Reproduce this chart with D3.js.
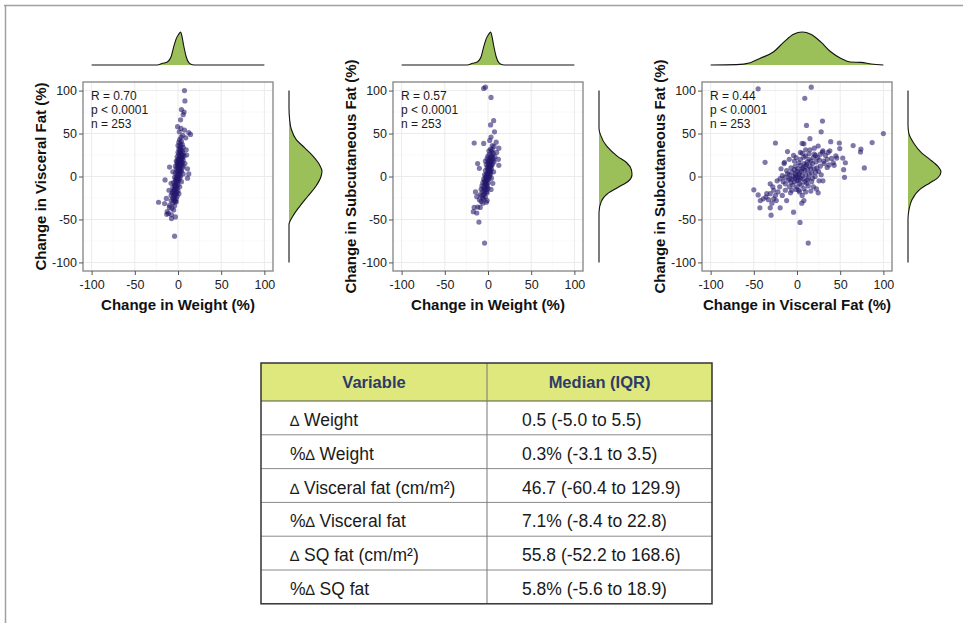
<!DOCTYPE html>
<html>
<head>
<meta charset="utf-8">
<script src="https://cdn.jsdelivr.net/npm/d3@7"></script>
<style>
body { margin: 0; background: #fff; }
svg { font-family: "Liberation Sans", Arial, Helvetica, sans-serif; }
.grid-major { stroke: #ebebeb; stroke-width: 1; }
.grid-minor { stroke: #f5f5f5; stroke-width: 0.6; }
.box { fill: none; stroke: #8c8c8c; stroke-width: 1.4; }
.dens-area { fill: #9bbf59; }
.dens-line { fill: none; stroke: #111; stroke-width: 1.1; }
.title { font-weight: bold; font-size: 15px; fill: #111; }
.note { font-size: 12px; fill: #1a1a1a; }
</style>
</head>
<body>
<svg id="chart" width="963" height="623"></svg>
<script>

/// Panel 1: change in weight (%) vs change in visceral fat (%)
var weightVsVisceral = [
  [7.5,100],[8,88],[4,78],[7,75],[6,72],[3,66],[-0.5,58],[3.5,56],[7.5,54],[12.5,51],[14.5,49],[5.5,48],[3.5,46],[1.5,52],[9,45],
  [2,43],[4,41],[1,40],[3,38],[5,37],[0,36],[2,35],[6,34],[3,33],[1,32],[4,31],[9.5,31],[2,30],[5,29],[0,28],[3,27],[6,27],[1,26],[4,25],[10,25],[2,24],[7,24],[-1,23],
  [3,22],[5,21],[0,20],[2,20],[4,19],[6,19],[1,18],[-2,18],[3,17],[5,16],[0,16],[2,15],[8,15],[-1,14],[4,14],[1,13],[3,12],[-3,12],[6,12],[0,11],[2,10],[-9.8,11],[5,10],[-2,9],[11,9],[1,8],[3,7],[-1,6],[-6,5.5],[4,6],[0,5],[2,4],[-3,4],[6,3],[12.5,3],[-1,2],[1,1],[3,0.5],[-2,0],[0,-1],[-4,-1],[2,-2],[11,-2],[-1,-3],[-3,-4],[-15,-4],[1,-5],[-2,-6],[4,-6],
  [-5,-7],[-1,-8],[-8,-8],[-3,-9],[0,-10],[-4,-11],[-2,-12],[2,-12],[-6,-13],[-1,-14],[-3,-15],[-10.5,-16],[-5,-16],[0,-17],[-2,-18],[-4,-19],[-7,-19],[1,-20],[-3,-21],[-5,-22],[-8,-22],[-1,-23],[-4,-24],[-6,-25],[-13.5,-25.5],[-2,-26],[-5,-27],[-8,-28],[-3,-29],[-2,-29.5],[-22.5,-30],
  [-6,-31],[-15.5,-31.5],[-9.8,-33.5],[-4,-34],[-10,-36],[-7,-37],[-5,-39],[-12.5,-41],[-11,-43],[-13,-44],[-7.5,-44.5],[-3,-47],[-7.5,-49],[-4,-69.5],
  [1,3],[2,7],[0,13],[3,15],[1,21],[4,23],[-1,-2],[-2,-4],[-3,-11],[-4,-15],[-2,-20],[0,-4],[2,18],[3,28],[0,9],[-1,17],[5,24],[-6,-18],[-4,-28]
];

/// Panel 2: change in weight (%) vs change in subcutaneous fat (%)
var weightVsSq = [
  [-5,102.5],[-3,104],[3.5,92],[6.5,65],[3,60],[7.5,52],[3.5,46],[2,42],[9.5,40],[-16,39],[-5,38.5],[12.5,33],[5,36],[7,35],[3,32],[10,28],[1,30],[4,29],[6,27],[12,20],
  [2,26],[5,25],[0,24],[8,23],[3,22],[-1,21],[6,21],[2,20],[4,18],[-3,18],[0,17],[7,17],[-12,15],[2,15],[5,14],[-2,14],[12.5,13],[1,12],[3,11],[-1,10],[-10,9.5],[4,9],[0,8],[2,7],[-3,7],[6.5,5.5],[1,5],[-1,4],[3,3],[-4,2],[0,1],[2,0],
  [-2,-1],[4,-2],[-5,-3],[1,-3],[-1,-5],[-3,-6],[-6,-7],[0,-7],[5.5,-8],[-2,-9],[-4,-10],[-7,-11],[-1,-12],[-5,-13],[-3,-14],[3.5,-15],[-8,-15],[-6,-17],[-14.5,-18],[-2,-18],[-4,-20],[-9,-21],[-7,-22],[-13,-23.5],[-3,-24],[-5,-26],[-10,-27],[-1,-28],[-8,-29],[-6,-31],
  [-12,-35.5],[-16,-36],[-9,-36],[-17,-41],[-13,-42.5],[-10.5,-53],[-4,-77.5],
  [1,6],[2,10],[-1,0],[0,3],[3,14],[1,19],[4,23],[-2,-4],[-3,-8],[-4,-16],[-2,2],[3,6],[0,-14],[-5,-21],[1,9],[2,13],[-1,-19],[5,31],[6,19],[-6,-25],[-2,-30],
  [0,12],[1,16],[-1,-10],[-2,-15],[2,4],[3,18],[0,-2],[-3,-1],[4,13],[-4,-5]
];

/// Panel 3: change in visceral fat (%) vs change in subcutaneous fat (%)
var visceralVsSq = [
  [-45,102],[16.5,104],[9,91],[11,59.5],[29.5,64.5],[28,52],[100,50],[87,39.5],[74,32],[73.5,28.5],[65,36],[49,39],[49.5,32.5],[39,40.5],[15,44],[24.5,35.5],[8,38],[6,38.5],[-25,39],[-11,29],[-37,16.5],[-14.5,16.5],
  [78,10],[55,-1],[54,8],[56,16],[53,21.5],[46,21.5],[37,13.5],[43,13],[-50,-15.5],[-45,-21.5],[-42.5,-28],[-43,-36.5],[-31,-36.5],[-19.5,-36.5],[-30,-45],[-4,-41.5],[3.5,-53.5],[13,-77.5],[8,-28],[5.5,-31],[22.5,-14.5],[24.5,-19],[-7.5,-19],[2,-16],[-13.5,-16],
  [-31,-8.5],[-27,-16],[-31,-20],[-35,-20],[-39,-26],[-33,-27],[-27,-26],[-25,-22],[-22,-18],[-20,-12],[-19.5,-2.5],[-18.5,9],[-16,-6],[-23,-5],[-28,-12],[-36,-24],[-24,-28],[-17,-22],[-12,-28],[-29,-31],
  [-13.5,-8.5],[-8.5,-2.5],[-2,3],[4,13],[-4,24.5],[0,-5],[2,2],[5,6],[-6,5],[-10,-4],[-5,-10],[0,-12],[3,-8],[7,-3],[10,2],[12,8],[15,12],[8,15],[4,20],[-2,12],[-7,10],[-11,3],[-14,-1],[-9,-12],[-3,-6],[1,-1],[6,1],[9,-6],[13,-2],[17,4],
  [20,9],[18,15],[14,20],[10,24],[6,27],[20,26],[24,22],[22,17],[27,12],[25,6],[21,0],[17,-6],[13,-11],[8,-14],[3,-18],[-1,-15],[-6,-16],[16,-17],[30,-5],[28,2],[31,18],[33,24.5],[29.5,28.5],[35,10.5],[31.5,15],[21.5,5],[25.5,-5],[14,26.5],[21.5,24.5],[8,22.5],
  [-15,15],[-3,18],[1,9],[7,10],[11,14],[16,18],[19,22],[26,19],[11,-8],[5,-10],[-2,-2],[-7,-7],[3,4],[9,7],[14,3],[18,-2],[23,10],[27,26],[36,28],[38,30],[30,30],[12,17],[0,6],[-4,0],[-12,7],[-17,1],[6,-22],[10,-18],[19,-12],[2,16],[-9,20],[4,28],[-1,22],[15,31],[10,31],[20,33],[35,20],[40,21],[42,16],[45,24],
  [-6,-3],[2,-4],[6,9],[-1,1],[10,12],[4,-2],[-9,2],[16,9],[12,-4],[-3,8]
];

/// Marginal densities: [value, relative height]
var weightDensity = [[-100,0],[-24,0],[-18,0.05],[-12,0.1],[-8,0.25],[-5,0.55],[-2,0.8],[1,0.94],[3,1],[4.5,0.88],[6.5,0.6],[9.5,0.25],[12.5,0.07],[16.5,0.01],[22,0],[100,0]];
var visceralDensityRight = [[-100,0],[-56,0],[-46,0.12],[-35,0.32],[-23,0.57],[-11,0.82],[0,0.97],[6,1],[14,0.92],[24,0.72],[33.5,0.47],[43,0.22],[55,0.07],[66,0.02],[80,0],[100,0]];
var visceralDensityTop = [[-100,0],[-70,0.01],[-54,0.07],[-43,0.2],[-27,0.4],[-15,0.7],[-4,0.93],[6,1],[16,0.93],[27.5,0.7],[39,0.4],[51,0.2],[62,0.09],[74,0.08],[86,0.03],[100,0]];
var sqDensityMid = [[-100,0],[-42,0],[-29,0.07],[-19,0.29],[-13,0.56],[-5.5,0.89],[2,1],[8,0.98],[16,0.84],[23.5,0.56],[35,0.24],[49,0.04],[56,0],[100,0]];
var sqDensityRight = [[-100,0],[-50,0],[-38.5,0.03],[-27,0.12],[-15,0.36],[-7.5,0.66],[-1.5,0.9],[5.5,1],[12,0.9],[20,0.66],[27.5,0.41],[39,0.17],[51,0.02],[60,0],[100,0]];

var axisTicks = [-100, -50, 0, 50, 100];
var minorTicks = [-75, -25, 25, 75];
var xTitles = ["Change in Weight (%)", "Change in Weight (%)", "Change in Visceral Fat (%)"];
var yTitles = ["Change in Visceral Fat (%)", "Change in Subcutaneous Fat (%)", "Change in Subcutaneous Fat (%)"];
var rValues = ["R = 0.70", "R = 0.57", "R = 0.44"];
var pValues = ["p < 0.0001", "p < 0.0001", "p < 0.0001"];
var nValues = ["n = 253", "n = 253", "n = 253"];

/// Table
var tableHeader = ["Variable", "Median (IQR)"];
var tableVariables = ["∆ Weight", "%∆ Weight", "∆ Visceral fat (cm/m²)", "%∆ Visceral fat", "∆ SQ fat (cm/m²)", "%∆ SQ fat"];
var tableMedians = ["0.5 (-5.0 to 5.5)", "0.3% (-3.1 to 3.5)", "46.7 (-60.4 to 129.9)", "7.1% (-8.4 to 22.8)", "55.8 (-52.2 to 168.6)", "5.8% (-5.6 to 18.9)"];

var panels = [
  {pts: weightVsVisceral, top: weightDensity, right: visceralDensityRight},
  {pts: weightVsSq, top: weightDensity, right: sqDensityMid},
  {pts: visceralVsSq, top: visceralDensityTop, right: sqDensityRight}
];

var svg = d3.select("#chart");

/// page frame (top and left rule)
svg.append("path")
    .attr("d", "M4,5.5H963M5.5,5V623")
    .attr("fill", "none")
    .attr("stroke", "#a0a0a0")
    .attr("stroke-width", 1.5);

var boxW = 190, boxH = 189, boxTop = 82;
var panelLeft = [83, 393, 702];
var margH = 33, topBase = 65, rightGap = 16;

panels.forEach(function(p, i) {
  var x = d3.scaleLinear().domain([-110, 110]).range([0, boxW]);
  var y = d3.scaleLinear().domain([-110, 110]).range([boxH, 0]);
  var h = d3.scaleLinear().domain([0, 1]).range([0, margH]);

  var g = svg.append("g").attr("transform", "translate(" + panelLeft[i] + "," + boxTop + ")");

  /// grid
  g.selectAll(".gmx").data(minorTicks).enter().append("line").attr("class", "grid-minor")
      .attr("x1", x).attr("x2", x).attr("y1", 0).attr("y2", boxH);
  g.selectAll(".gmy").data(minorTicks).enter().append("line").attr("class", "grid-minor")
      .attr("y1", y).attr("y2", y).attr("x1", 0).attr("x2", boxW);
  g.selectAll(".gx").data(axisTicks).enter().append("line").attr("class", "grid-major")
      .attr("x1", x).attr("x2", x).attr("y1", 0).attr("y2", boxH);
  g.selectAll(".gy").data(axisTicks).enter().append("line").attr("class", "grid-major")
      .attr("y1", y).attr("y2", y).attr("x1", 0).attr("x2", boxW);

  /// points
  g.append("g").selectAll("circle").data(p.pts).enter().append("circle")
      .attr("cx", function(d) { return x(d[0]); })
      .attr("cy", function(d) { return y(d[1]); })
      .attr("r", 2.6)
      .attr("fill", "#22166a")
      .attr("fill-opacity", 0.58);

  g.append("rect").attr("class", "box").attr("width", boxW).attr("height", boxH);

  /// axes (plain hyphen minus like the original)
  var fmt = function(d) { return String(d); };
  var ax = g.append("g").attr("transform", "translate(0," + boxH + ")")
      .call(d3.axisBottom(x).tickValues(axisTicks).tickFormat(fmt).tickSize(4).tickPadding(5));
  var ay = g.append("g")
      .call(d3.axisLeft(y).tickValues(axisTicks).tickFormat(fmt).tickSize(4).tickPadding(2));
  [ax, ay].forEach(function(a) {
    a.attr("font-family", null).attr("font-size", 12.5);
    a.select(".domain").remove();
    a.selectAll(".tick line").attr("stroke", "#555");
    a.selectAll(".tick text").attr("fill", "#222");
  });

  /// stats annotation
  [rValues[i], pValues[i], nValues[i]].forEach(function(t, k) {
    g.append("text").attr("class", "note").attr("x", 8).attr("y", 18 + k * 14).text(t);
  });

  /// titles
  g.append("text").attr("class", "title")
      .attr("x", boxW / 2).attr("y", 228)
      .attr("text-anchor", "middle").text(xTitles[i]);
  g.append("text").attr("class", "title")
      .attr("transform", "translate(-37," + (boxH / 2) + ") rotate(-90)")
      .attr("text-anchor", "middle").text(yTitles[i]);

  /// top marginal density
  var tg = svg.append("g").attr("transform", "translate(" + panelLeft[i] + "," + topBase + ")");
  tg.append("path").datum(p.top).attr("class", "dens-area")
      .attr("d", d3.area().curve(d3.curveMonotoneX)
          .x(function(d) { return x(d[0]); })
          .y0(0)
          .y1(function(d) { return -h(d[1]); }));
  tg.append("path").datum(p.top).attr("class", "dens-line")
      .attr("d", d3.line().curve(d3.curveMonotoneX)
          .x(function(d) { return x(d[0]); })
          .y(function(d) { return -h(d[1]); }));

  /// right marginal density
  var rg = svg.append("g").attr("transform", "translate(" + (panelLeft[i] + boxW + rightGap) + "," + boxTop + ")");
  rg.append("path").datum(p.right).attr("class", "dens-area")
      .attr("d", d3.area().curve(d3.curveMonotoneY)
          .y(function(d) { return y(d[0]); })
          .x0(0)
          .x1(function(d) { return h(d[1]); }));
  rg.append("path").datum(p.right).attr("class", "dens-line")
      .attr("d", d3.line().curve(d3.curveMonotoneY)
          .y(function(d) { return y(d[0]); })
          .x(function(d) { return h(d[1]); }));
});

/// summary table
var tLeft = 261, tTop = 363, tW = 451, colSplit = 226, headH = 38, rowH = 33.8;
var tg = svg.append("g").attr("transform", "translate(" + tLeft + "," + tTop + ")");
var rowY = d3.scaleLinear().domain([0, 1]).range([headH, headH + rowH]);

tg.append("rect").attr("width", tW).attr("height", headH).attr("fill", "#dfe87c");

tg.selectAll(".rowline").data(d3.range(1, tableVariables.length)).enter().append("line")
    .attr("x1", 0).attr("x2", tW)
    .attr("y1", rowY).attr("y2", rowY)
    .attr("stroke", "#8a8a8a").attr("stroke-width", 1);
tg.append("line").attr("x1", 0).attr("x2", tW).attr("y1", headH).attr("y2", headH)
    .attr("stroke", "#555").attr("stroke-width", 1.2);
tg.append("line").attr("x1", colSplit).attr("x2", colSplit).attr("y1", 0).attr("y2", rowY(tableVariables.length))
    .attr("stroke", "#777").attr("stroke-width", 1);
tg.append("rect").attr("width", tW).attr("height", rowY(tableVariables.length))
    .attr("fill", "none").attr("stroke", "#333").attr("stroke-width", 1.5);

tg.selectAll(".head").data(tableHeader).enter().append("text")
    .attr("x", function(d, k) { return k === 0 ? colSplit / 2 : (colSplit + tW) / 2; })
    .attr("y", 25)
    .attr("text-anchor", "middle")
    .attr("font-size", 16.5).attr("font-weight", "bold").attr("fill", "#2d3b6a")
    .text(function(d) { return d; });

tableVariables.forEach(function(label, k) {
  var t = tg.append("text").attr("x", 29).attr("y", rowY(k) + 25)
      .attr("font-size", 17.5).attr("fill", "#1a1a1a");
  label.split(/(∆)/).forEach(function(part) {
    if (part === "") return;
    var s = t.append("tspan").text(part);
    if (part === "∆") s.attr("font-size", 15);
  });
});
tg.selectAll(".med").data(tableMedians).enter().append("text")
    .attr("x", 261)
    .attr("y", function(d, k) { return rowY(k) + 25; })
    .attr("font-size", 17.5).attr("fill", "#1a1a1a")
    .text(function(d) { return d; });

</script>
</body>
</html>
